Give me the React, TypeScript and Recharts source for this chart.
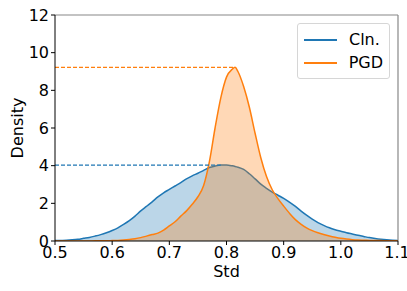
import {
    ComposedChart,
    Area,
    XAxis,
    YAxis,
    Legend,
    ReferenceLine,
} from "recharts";

// kernel density estimates of the per-sample std
const stdValues = [
    0.5, 0.51, 0.52, 0.53, 0.54, 0.55, 0.56, 0.57, 0.58, 0.59,
    0.6, 0.61, 0.62, 0.63, 0.64, 0.65, 0.66, 0.67, 0.68, 0.69,
    0.7, 0.71, 0.72, 0.73, 0.74, 0.75, 0.76, 0.77, 0.78, 0.79,
    0.8, 0.81, 0.815, 0.82, 0.83, 0.84, 0.85, 0.86, 0.87, 0.88, 0.89,
    0.9, 0.91, 0.92, 0.93, 0.94, 0.95, 0.96, 0.97, 0.98, 0.99,
    1.0, 1.01, 1.02, 1.03, 1.04, 1.05, 1.06, 1.07, 1.08, 1.09, 1.1,
];

const clnDensity = [
    0.02, 0.03, 0.04, 0.06, 0.09, 0.14, 0.19, 0.26, 0.34, 0.44,
    0.56, 0.7, 0.88, 1.08, 1.32, 1.6, 1.84, 2.08, 2.34, 2.56,
    2.74, 2.92, 3.1, 3.3, 3.46, 3.6, 3.75, 3.9, 3.98, 4.03,
    4.03, 3.99, 3.96, 3.92, 3.8, 3.57, 3.3, 3.02, 2.8, 2.6, 2.43,
    2.26, 2.07, 1.85, 1.6, 1.37, 1.16, 0.98, 0.83, 0.7, 0.6,
    0.52, 0.44, 0.37, 0.3, 0.24, 0.18, 0.13, 0.09, 0.06, 0.04, 0.03,
];

const pgdDensity = [
    0.0, 0.0, 0.0, 0.0, 0.0, 0.0, 0.0, 0.01, 0.01, 0.01,
    0.02, 0.03, 0.05, 0.08, 0.12, 0.18, 0.26, 0.34, 0.42, 0.58,
    0.8, 1.02, 1.32, 1.6, 1.95, 2.35, 2.95, 4.2, 6.0, 7.6,
    8.7, 9.12, 9.22, 9.0, 8.2, 7.1, 5.72, 4.42, 3.42, 2.72, 2.25,
    1.85, 1.48, 1.15, 0.9, 0.7, 0.55, 0.44, 0.35, 0.27, 0.2,
    0.14, 0.1, 0.07, 0.05, 0.04, 0.03, 0.02, 0.02, 0.01, 0.01, 0.01,
];

const xTicks = [0.5, 0.6, 0.7, 0.8, 0.9, 1.0, 1.1];
const yTicks = [0, 2, 4, 6, 8, 10, 12];

const BLUE = "#1f77b4";
const ORANGE = "#ff7f0e";
const FONT = "'DejaVu Sans', sans-serif";

const data = stdValues.map((x, i) => ({
    x,
    cln: clnDensity[i],
    pgd: pgdDensity[i],
}));

const peakOf = (values: number[]) => {
    let idx = 0;
    values.forEach((v, i) => {
        if (v > values[idx]) idx = i;
    });
    return { x: stdValues[idx], y: values[idx] };
};

const clnPeak = peakOf(clnDensity);
const pgdPeak = peakOf(pgdDensity);

const LegendBox = () => (
    <div
        style={{
            border: "1px solid #d6d6d6",
            borderRadius: 3,
            background: "rgba(255,255,255,0.8)",
            padding: "4px 6px",
            fontFamily: FONT,
            fontSize: 16,
            color: "#000",
        }}
    >
        {[
            { name: "Cln.", color: BLUE },
            { name: "PGD", color: ORANGE },
        ].map((item) => (
            <div
                key={item.name}
                style={{ display: "flex", alignItems: "center", height: 23 }}
            >
                <span
                    style={{
                        display: "inline-block",
                        width: 33,
                        height: 2,
                        background: item.color,
                        marginRight: 12,
                    }}
                />
                {item.name}
            </div>
        ))}
    </div>
);

export default function App() {
    return (
        <div style={{ position: "absolute", left: 0, top: 0, background: "#fff" }}>
            <ComposedChart
                width={407}
                height={291}
                data={data}
                margin={{ top: 15, right: 9, bottom: 0, left: 0 }}
            >
                <XAxis
                    dataKey="x"
                    type="number"
                    domain={[0.5, 1.1]}
                    ticks={xTicks}
                    allowDataOverflow
                    tickFormatter={(v: number) => v.toFixed(1)}
                    height={50}
                    stroke="#000"
                    tickSize={4}
                    tickMargin={2}
                    tick={{ fill: "#000", fontSize: 16, fontFamily: FONT }}
                    label={{
                        value: "Std",
                        position: "insideBottom",
                        offset: 14,
                        style: { fill: "#000", fontSize: 16, fontFamily: FONT },
                    }}
                />
                <YAxis
                    type="number"
                    domain={[0, 12]}
                    ticks={yTicks}
                    allowDataOverflow
                    width={55}
                    stroke="#000"
                    tickSize={4}
                    tickMargin={2}
                    tick={{ fill: "#000", fontSize: 16, fontFamily: FONT }}
                    label={{
                        value: "Density",
                        angle: -90,
                        position: "insideLeft",
                        offset: 17,
                        style: {
                            fill: "#000",
                            fontSize: 16,
                            fontFamily: FONT,
                            textAnchor: "middle",
                        },
                    }}
                />
                <ReferenceLine y={12} stroke="#888" strokeWidth={1.2} />
                <ReferenceLine x={1.1} stroke="#888" strokeWidth={1.2} />

                <Area
                    type="monotone"
                    dataKey="cln"
                    stroke={BLUE}
                    strokeWidth={1.5}
                    fill={BLUE}
                    fillOpacity={0.3}
                    dot={false}
                    activeDot={false}
                    isAnimationActive={false}
                />
                <Area
                    type="monotone"
                    dataKey="pgd"
                    stroke={ORANGE}
                    strokeWidth={1.5}
                    fill={ORANGE}
                    fillOpacity={0.3}
                    dot={false}
                    activeDot={false}
                    isAnimationActive={false}
                />

                <ReferenceLine
                    segment={[
                        { x: 0.5, y: clnPeak.y },
                        { x: clnPeak.x, y: clnPeak.y },
                    ]}
                    stroke={BLUE}
                    strokeWidth={1.3}
                    strokeDasharray="4 2"
                />
                <ReferenceLine
                    segment={[
                        { x: 0.5, y: pgdPeak.y },
                        { x: pgdPeak.x, y: pgdPeak.y },
                    ]}
                    stroke={ORANGE}
                    strokeWidth={1.3}
                    strokeDasharray="4 2"
                />

                <Legend
                    layout="vertical"
                    align="center"
                    verticalAlign="middle"
                    content={() => <LegendBox />}
                    wrapperStyle={{ top: 23, left: 297, width: 93 }}
                />
            </ComposedChart>
        </div>
    );
}
